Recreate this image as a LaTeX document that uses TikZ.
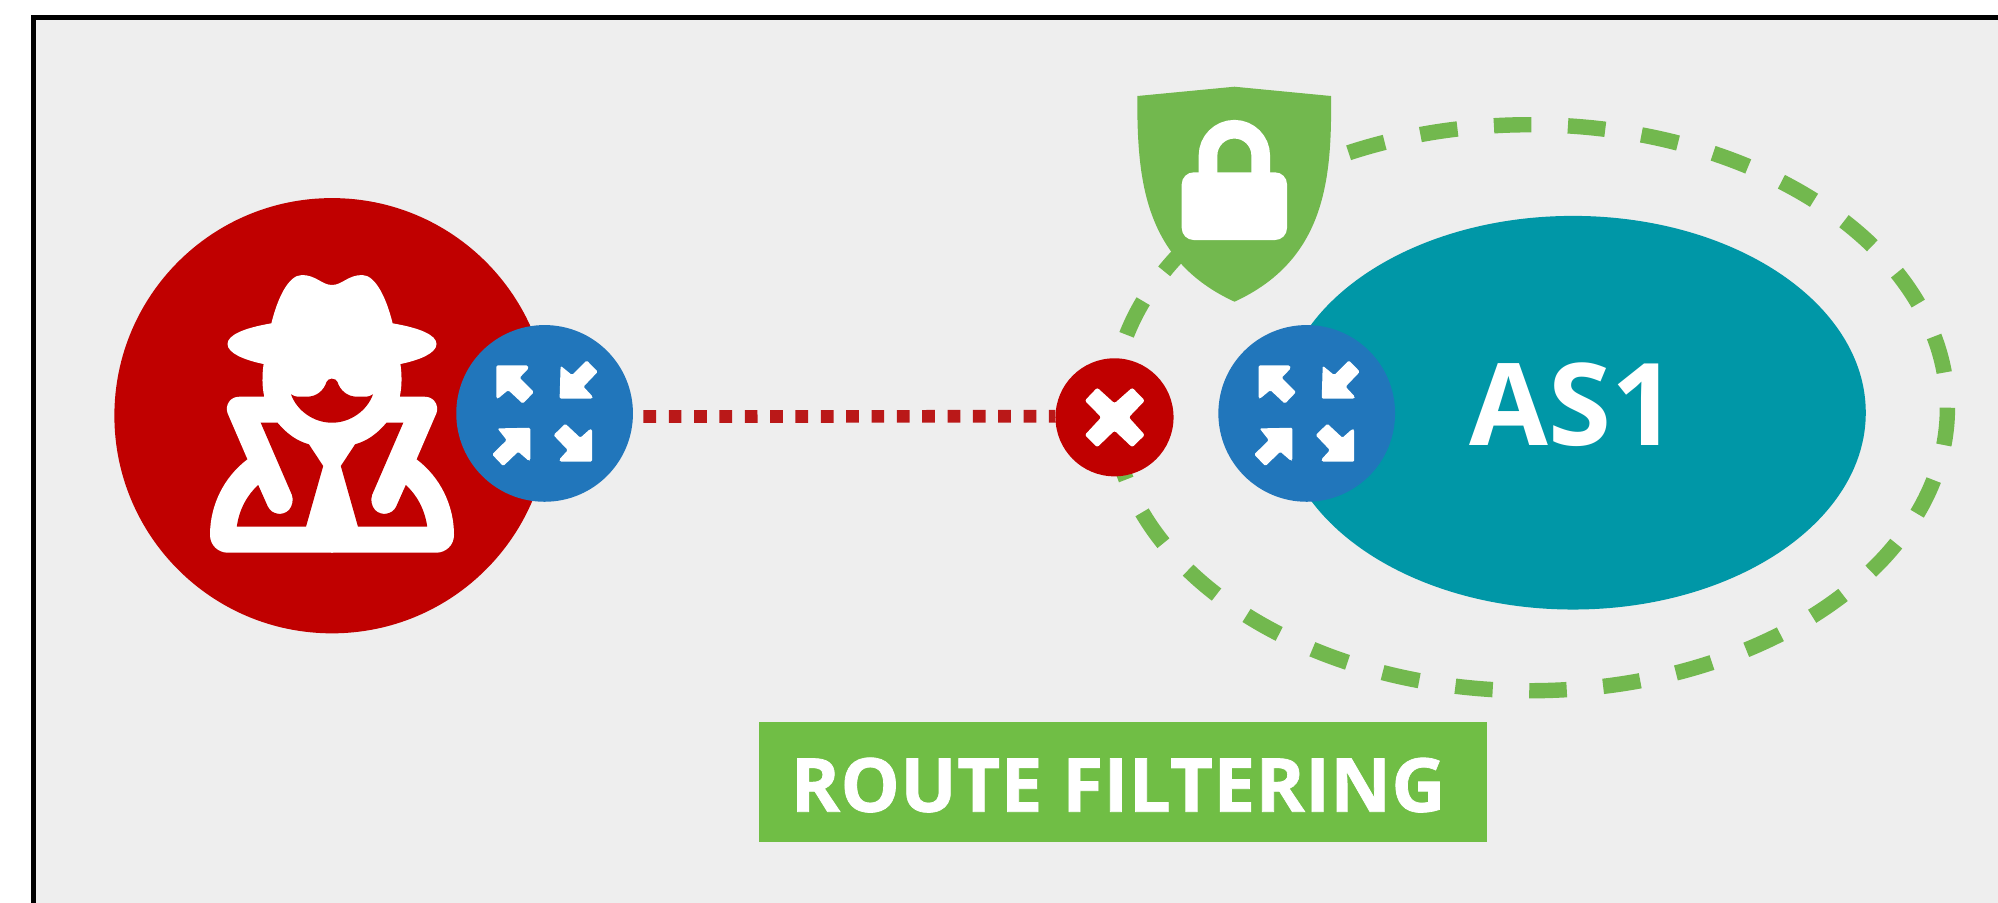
\documentclass[tikz,border=0pt]{standalone}
\usepackage{fontspec}
\setmainfont{Open Sans}
\usetikzlibrary{shapes.geometric}
\pgfdeclarelayer{back}
\pgfsetlayers{back,main}
\definecolor{panelgray}{HTML}{EEEEEE}
\definecolor{alertred}{HTML}{C00000}
\definecolor{dotred}{HTML}{BA1818}
\definecolor{routerblue}{HTML}{2176BB}
\definecolor{asteal}{HTML}{0097A7}
\definecolor{filtergreen}{HTML}{72B84E}
\definecolor{labelgreen}{HTML}{70BE45}
\tikzset{
    disc/.style={circle,fill=#1,inner sep=0,outer sep=0},
    routericon/.pic={
        \fill[white,rounded corners=0.4pt] (-48.2,-48) -- (-16.8,-48) -- (-16,-45) -- (-25,-35.7) -- (-10.7,-21.3) -- (-21.8,-9.7) -- (-36.4,-23.3) -- (-46.4,-15) -- (-48.2,-15) -- cycle;
        \fill[white,rounded corners=0.4pt] (16,-47.7) -- (27.5,-38.3) -- (42.1,-53) -- (53.2,-41.7) -- (38.9,-26.7) -- (48.2,-16.7) -- (47.5,-14.7) -- (15,-14.7) -- cycle;
        \fill[white,rounded corners=0.4pt] (-47.1,15) -- (-14.3,14.3) -- (-14.3,46.7) -- (-16,47.3) -- (-26.4,38.3) -- (-41.4,52.7) -- (-52.5,41) -- (-37.9,26.7) -- cycle;
        \fill[white,rounded corners=0.4pt] (20.7,10.3) -- (35.7,24.3) -- (45.4,15.7) -- (47.5,16) -- (47.5,48.3) -- (15.4,48.3) -- (14.7,46) -- (23.2,36.7) -- (8.9,21.7) -- cycle;
    }
}
\begin{document}
\begin{tikzpicture}[x=0.01cm,y=-0.01cm]
    \useasboundingbox (0,0) rectangle (1998,902);
    \clip (0,0) rectangle (1998,902);
    % panel, frame and filter ring stay behind everything
    \begin{pgfonlayer}{back}
        \fill[panelgray] (33.3,17.5) rectangle (2010,910);
        \draw[line width=0.052cm] (33.3,910) |- (2010,17.5);
        \draw[filtergreen,line width=0.154cm,dash pattern=on 0.375cm off 0.3653cm] (1530,407.7) ellipse [x radius=417.4,y radius=283];
    \end{pgfonlayer}

    \node[ellipse,fill=asteal,inner sep=0,minimum width=5.852cm,minimum height=3.934cm] (asone) at (1573,412.7) {};
    \node[anchor=base,text=white,font=\fontsize{32.5}{32.5}\selectfont\bfseries,inner sep=0] (asonelabel) at (1573,445) {AS1};

    % attacker
    \node[disc=alertred,minimum size=4.35cm] (spy) at (332,415.7) {};
    \foreach \m in {1,-1} {
        \begin{scope}[shift={(332,0)},xscale=\m]
            \fill[white] (1,285) -- (0,285) .. controls (-10,285) and (-16,275) .. (-30.2,275)
                .. controls (-44,275) and (-55,300) .. (-60.6,323.3)
                .. controls (-88,328) and (-104.5,335) .. (-104.5,344)
                .. controls (-104.5,353) and (-88,360) .. (-68.4,364)
                .. controls (-70,375) and (-70,387) .. (-67.7,396.7)
                -- (-92.7,396.7)
                .. controls (-102,396.7) and (-107,405) .. (-104.5,413)
                -- (-84.5,459.3)
                .. controls (-108,477) and (-122,505) .. (-122,535)
                .. controls (-122,545) and (-114,552.7) .. (-104,552.7)
                -- (1,552.7) -- cycle;
            \fill[alertred] (-71.3,422.7) -- (-54.5,422.7) .. controls (-45,434) and (-35,441) .. (-23.1,444.3)
                -- (-8.8,466) -- (-26,526.7) -- (-95.2,526.7)
                .. controls (-93,510) and (-85,495) .. (-73.8,485)
                -- (-64.1,506.7)
                .. controls (-60,515) and (-49,516) .. (-43,510)
                .. controls (-39.5,506) and (-38.5,500) .. (-40,495) -- cycle;
            \fill[alertred] (1,378.7) -- (0,378.7) .. controls (-3,378.7) and (-4.5,380) .. (-5.5,382)
                .. controls (-8,390) and (-15,396.7) .. (-25,396.7) -- (-32,396.7)
                .. controls (-36,396.7) and (-39,396) .. (-41,394.3)
                .. controls (-35,411) and (-18,422.7) .. (0,422.7) -- (1,422.7) -- cycle;
        \end{scope}
    }

    % routers and the cut link
    \node[disc=routerblue,minimum size=1.766cm] (routerL) at (544.6,413.4) {};
    \node[disc=routerblue,minimum size=1.766cm] (routerR) at (1306.7,413.4) {};
    \pic at (routerL) {routericon};
    \pic at (routerR) {routericon};
    \node[disc=alertred,minimum size=1.18cm] (blockX) at (1114.5,417.3) {};
    \fill[white,rounded corners=0.6pt,shift={(blockX)}] (-17.3,-29.7) -- (0,-14) -- (17.7,-29.7) -- (30.3,-16.7) -- (14.3,0) -- (30.3,17.7) -- (17.7,30) -- (0,13.3) -- (-17.3,30) -- (-29.7,17.7) -- (-13.3,0) -- (-29.7,-16.7) -- cycle;
    \begin{pgfonlayer}{back}
        \draw[dotred,line width=0.127cm,dash pattern=on 0.127cm off 0.1263cm,shorten <=0.105cm] (routerL.-2) -- (blockX.179);
    \end{pgfonlayer}

    % shield with lock
    \fill[filtergreen] (1234.4,86.7) -- (1331,96) .. controls (1332,180) and (1325,260) .. (1234.5,301.7)
        .. controls (1144,260) and (1137,180) .. (1137.3,96) -- cycle;
    \draw[white,line width=0.186cm] (1208,180) -- (1208,155.5) arc [start angle=180,end angle=360,x radius=26.35,y radius=26.3] -- (1260.7,180);
    \fill[white,rounded corners=3.4pt] (1181.7,172.3) rectangle (1287,240);

    \node[fill=labelgreen,text=white,inner sep=0,minimum width=7.276cm,minimum height=1.2cm,text height=0.594cm,text depth=0pt,font=\fontsize{21.2}{21.2}\selectfont\bfseries\addfontfeatures{FakeBold=1,LetterSpace=0.6}] (title) at (1123.2,782) {ROUTE FILTERING\kern0.1cm};
\end{tikzpicture}
\end{document}
